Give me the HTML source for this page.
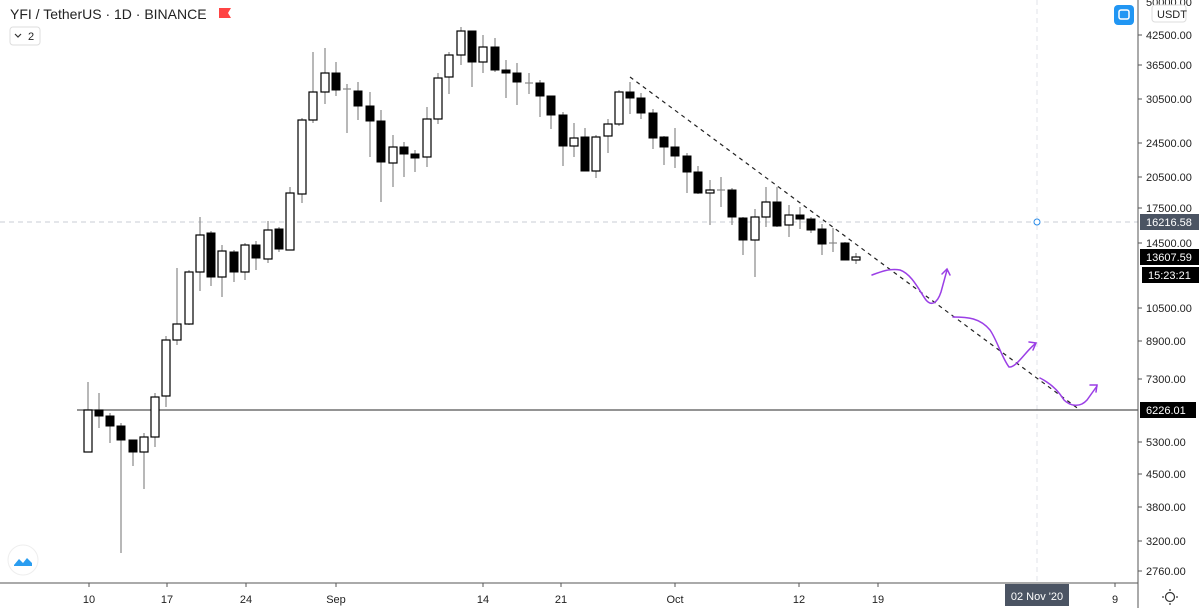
<!DOCTYPE html>
<html><head><meta charset="utf-8"><style>
html,body{margin:0;padding:0;background:#fff;width:1199px;height:608px;overflow:hidden;font-family:"Liberation Sans",sans-serif}
</style></head><body>
<svg width="1199" height="608" xmlns="http://www.w3.org/2000/svg" font-family="Liberation Sans, sans-serif">
<rect width="1199" height="608" fill="#fff"/>
<!-- grid-ish lines -->
<line x1="0" y1="222" x2="1138" y2="222" stroke="#c8ccd4" stroke-dasharray="5,4"/>
<line x1="1037" y1="0" x2="1037" y2="583" stroke="#e0e3e8" stroke-dasharray="5,4"/>
<circle cx="1037" cy="222" r="3" fill="#fff" stroke="#2a8be8" stroke-width="1"/>
<!-- horizontal support -->
<line x1="77" y1="410" x2="1138" y2="410" stroke="#555" stroke-width="1.3"/>
<!-- trendline -->
<line x1="630" y1="77" x2="1080" y2="410" stroke="#222" stroke-width="1.2" stroke-dasharray="4,4"/>
<!-- wicks -->
<g stroke="#888" stroke-width="1.2">
<line x1="88" y1="382" x2="88" y2="452"/><line x1="99" y1="393" x2="99" y2="428"/><line x1="110" y1="413" x2="110" y2="443"/><line x1="121" y1="423" x2="121" y2="553"/><line x1="133" y1="440" x2="133" y2="466"/><line x1="144" y1="433" x2="144" y2="489"/><line x1="155" y1="393" x2="155" y2="447"/><line x1="166" y1="336" x2="166" y2="407"/><line x1="177" y1="268" x2="177" y2="345"/><line x1="189" y1="270" x2="189" y2="325"/><line x1="200" y1="217" x2="200" y2="291"/><line x1="211" y1="231" x2="211" y2="286"/><line x1="222" y1="245" x2="222" y2="297"/><line x1="234" y1="250" x2="234" y2="282"/><line x1="245" y1="243" x2="245" y2="280"/><line x1="256" y1="241" x2="256" y2="270"/><line x1="268" y1="221" x2="268" y2="263"/><line x1="279" y1="227" x2="279" y2="252"/><line x1="290" y1="187" x2="290" y2="250"/><line x1="302" y1="118" x2="302" y2="203"/><line x1="313" y1="52" x2="313" y2="123"/><line x1="325" y1="48" x2="325" y2="104"/><line x1="336" y1="62" x2="336" y2="96"/><line x1="347" y1="84" x2="347" y2="133"/><line x1="358" y1="82" x2="358" y2="120"/><line x1="370" y1="92" x2="370" y2="157"/><line x1="381" y1="110" x2="381" y2="202"/><line x1="393" y1="135" x2="393" y2="187"/><line x1="404" y1="142" x2="404" y2="177"/><line x1="415" y1="150" x2="415" y2="172"/><line x1="427" y1="107" x2="427" y2="167"/><line x1="438" y1="73" x2="438" y2="124"/><line x1="449" y1="52" x2="449" y2="94"/><line x1="461" y1="27" x2="461" y2="65"/><line x1="472" y1="31" x2="472" y2="87"/><line x1="483" y1="35" x2="483" y2="73"/><line x1="495" y1="38" x2="495" y2="72"/><line x1="506" y1="60" x2="506" y2="98"/><line x1="517" y1="63" x2="517" y2="105"/><line x1="529" y1="73" x2="529" y2="94"/><line x1="540" y1="80" x2="540" y2="117"/><line x1="551" y1="96" x2="551" y2="129"/><line x1="563" y1="112" x2="563" y2="166"/><line x1="574" y1="123" x2="574" y2="157"/><line x1="585" y1="128" x2="585" y2="171"/><line x1="596" y1="135" x2="596" y2="178"/><line x1="608" y1="119" x2="608" y2="153"/><line x1="619" y1="90" x2="619" y2="126"/><line x1="630" y1="82" x2="630" y2="114"/><line x1="641" y1="93" x2="641" y2="119"/><line x1="653" y1="109" x2="653" y2="149"/><line x1="664" y1="136" x2="664" y2="165"/><line x1="675" y1="128" x2="675" y2="168"/><line x1="687" y1="153" x2="687" y2="193"/><line x1="698" y1="166" x2="698" y2="194"/><line x1="710" y1="180" x2="710" y2="225"/><line x1="721" y1="177" x2="721" y2="207"/><line x1="732" y1="188" x2="732" y2="225"/><line x1="743" y1="217" x2="743" y2="255"/><line x1="755" y1="209" x2="755" y2="277"/><line x1="766" y1="187" x2="766" y2="227"/><line x1="777" y1="187" x2="777" y2="227"/><line x1="789" y1="205" x2="789" y2="237"/><line x1="800" y1="207" x2="800" y2="229"/><line x1="811" y1="217" x2="811" y2="233"/><line x1="822" y1="224" x2="822" y2="255"/><line x1="833" y1="228" x2="833" y2="252"/><line x1="845" y1="242" x2="845" y2="260"/><line x1="856" y1="253" x2="856" y2="264"/>
<line x1="343" y1="89" x2="351" y2="89"/><line x1="525" y1="83" x2="533" y2="83"/><line x1="717" y1="190" x2="725" y2="190"/><line x1="829" y1="243" x2="837" y2="243"/>
</g>
<!-- white bodies -->
<g fill="#fff" stroke="#000" stroke-width="1.2">
<rect x="84" y="410" width="8" height="42"/><rect x="140" y="437" width="8" height="15"/><rect x="151" y="397" width="8" height="40"/><rect x="162" y="340" width="8" height="56"/><rect x="173" y="324" width="8" height="16"/><rect x="185" y="272" width="8" height="52"/><rect x="196" y="235" width="8" height="37"/><rect x="218" y="251" width="8" height="26"/><rect x="241" y="245" width="8" height="27"/><rect x="264" y="230" width="8" height="29"/><rect x="286" y="193" width="8" height="57"/><rect x="298" y="120" width="8" height="74"/><rect x="309" y="92" width="8" height="28"/><rect x="321" y="73" width="8" height="19"/><rect x="389" y="147" width="8" height="16"/><rect x="423" y="119" width="8" height="38"/><rect x="434" y="78" width="8" height="41"/><rect x="445" y="55" width="8" height="22"/><rect x="457" y="31" width="8" height="24"/><rect x="479" y="47" width="8" height="15"/><rect x="570" y="138" width="8" height="8"/><rect x="592" y="137" width="8" height="34"/><rect x="604" y="124" width="8" height="12"/><rect x="615" y="92" width="8" height="32"/><rect x="706" y="190" width="8" height="3"/><rect x="751" y="217" width="8" height="23"/><rect x="762" y="202" width="8" height="15"/><rect x="785" y="215" width="8" height="10"/><rect x="852" y="257" width="8" height="3"/>
</g>
<!-- black bodies -->
<g fill="#000" stroke="#000" stroke-width="1">
<rect x="95" y="410" width="8" height="6"/><rect x="106" y="416" width="8" height="10"/><rect x="117" y="426" width="8" height="14"/><rect x="129" y="440" width="8" height="12"/><rect x="207" y="233" width="8" height="44"/><rect x="230" y="252" width="8" height="20"/><rect x="252" y="245" width="8" height="13"/><rect x="275" y="229" width="8" height="20"/><rect x="332" y="73" width="8" height="17"/><rect x="354" y="91" width="8" height="15"/><rect x="366" y="106" width="8" height="15"/><rect x="377" y="121" width="8" height="41"/><rect x="400" y="147" width="8" height="7"/><rect x="411" y="154" width="8" height="4"/><rect x="468" y="31" width="8" height="31"/><rect x="491" y="47" width="8" height="23"/><rect x="502" y="70" width="8" height="3"/><rect x="513" y="73" width="8" height="9"/><rect x="536" y="83" width="8" height="13"/><rect x="547" y="96" width="8" height="19"/><rect x="559" y="115" width="8" height="31"/><rect x="581" y="137" width="8" height="34"/><rect x="626" y="92" width="8" height="6"/><rect x="637" y="98" width="8" height="15"/><rect x="649" y="113" width="8" height="25"/><rect x="660" y="137" width="8" height="10"/><rect x="671" y="147" width="8" height="9"/><rect x="683" y="156" width="8" height="16"/><rect x="694" y="172" width="8" height="21"/><rect x="728" y="190" width="8" height="27"/><rect x="739" y="218" width="8" height="22"/><rect x="773" y="202" width="8" height="24"/><rect x="796" y="215" width="8" height="4"/><rect x="807" y="219" width="8" height="11"/><rect x="818" y="229" width="8" height="15"/><rect x="841" y="243" width="8" height="17"/>
</g>
<!-- purple drawings -->
<g fill="none" stroke="#9b3fe6" stroke-width="1.5" stroke-linecap="round">
<path d="M872,275 C880,272 890,268 900,270 C912,274 920,292 926,300 C931,306 937,304 941,292 L947,270"/>
<path d="M942,274 L947,269 L950,275"/>
<path d="M953,317 C968,317 980,318 990,330 C997,340 1002,358 1009,367 C1016,368 1025,352 1035,344"/>
<path d="M1029,342 L1036,343 L1033,350"/>
<path d="M1040,378 C1050,383 1058,390 1064,400 C1070,406 1080,408 1087,400 L1097,386"/>
<path d="M1090,385 L1097,385 L1096,392"/>
</g>
<!-- axes -->
<line x1="1138" y1="0" x2="1138" y2="608" stroke="#555" stroke-width="1"/>
<line x1="0" y1="583" x2="1138" y2="583" stroke="#555" stroke-width="1"/>
<g font-size="11" fill="#222">
<text x="1146" y="6">50000.00</text>
<g stroke="#555"><line x1="1138" y1="35" x2="1142" y2="35"/><line x1="1138" y1="65" x2="1142" y2="65"/><line x1="1138" y1="99" x2="1142" y2="99"/><line x1="1138" y1="143" x2="1142" y2="143"/><line x1="1138" y1="177" x2="1142" y2="177"/><line x1="1138" y1="208" x2="1142" y2="208"/><line x1="1138" y1="243" x2="1142" y2="243"/><line x1="1138" y1="308" x2="1142" y2="308"/><line x1="1138" y1="341" x2="1142" y2="341"/><line x1="1138" y1="379" x2="1142" y2="379"/><line x1="1138" y1="442" x2="1142" y2="442"/><line x1="1138" y1="474" x2="1142" y2="474"/><line x1="1138" y1="507" x2="1142" y2="507"/><line x1="1138" y1="541" x2="1142" y2="541"/><line x1="1138" y1="571" x2="1142" y2="571"/></g>
<text x="1146" y="39">42500.00</text><text x="1146" y="69">36500.00</text><text x="1146" y="103">30500.00</text><text x="1146" y="147">24500.00</text><text x="1146" y="181">20500.00</text><text x="1146" y="212">17500.00</text><text x="1146" y="247">14500.00</text><text x="1146" y="312">10500.00</text><text x="1146" y="345">8900.00</text><text x="1146" y="383">7300.00</text><text x="1146" y="446">5300.00</text><text x="1146" y="478">4500.00</text><text x="1146" y="511">3800.00</text><text x="1146" y="545">3200.00</text><text x="1146" y="575">2760.00</text>
</g>
<rect x="1152" y="5" width="34" height="17" rx="3" fill="#fff" stroke="#ddd"/>
<text x="1157" y="18" font-size="11" fill="#222">USDT</text>
<rect x="1114" y="5" width="20" height="20" rx="4" fill="#2196f3"/>
<rect x="1119" y="10" width="10" height="9" rx="2" fill="none" stroke="#fff" stroke-width="1.5"/>
<rect x="1140" y="214" width="59" height="16" fill="#4b5463"/><text x="1146" y="226" font-size="11" fill="#fff">16216.58</text>
<rect x="1140" y="249" width="59" height="16" fill="#000"/><text x="1146" y="261" font-size="11" fill="#fff">13607.59</text>
<rect x="1142" y="267" width="57" height="16" fill="#000"/><text x="1148" y="279" font-size="11" fill="#fff">15:23:21</text>
<rect x="1140" y="402" width="56" height="16" fill="#000"/><text x="1146" y="414" font-size="11" fill="#fff">6226.01</text>
<!-- x axis -->
<g stroke="#555"><line x1="89" y1="583" x2="89" y2="587"/><line x1="167" y1="583" x2="167" y2="587"/><line x1="246" y1="583" x2="246" y2="587"/><line x1="336" y1="583" x2="336" y2="587"/><line x1="483" y1="583" x2="483" y2="587"/><line x1="561" y1="583" x2="561" y2="587"/><line x1="675" y1="583" x2="675" y2="587"/><line x1="799" y1="583" x2="799" y2="587"/><line x1="878" y1="583" x2="878" y2="587"/><line x1="1115" y1="583" x2="1115" y2="587"/></g>
<g font-size="11" fill="#222" text-anchor="middle">
<text x="89" y="603">10</text><text x="167" y="603">17</text><text x="246" y="603">24</text><text x="336" y="603">Sep</text><text x="483" y="603">14</text><text x="561" y="603">21</text><text x="675" y="603">Oct</text><text x="799" y="603">12</text><text x="878" y="603">19</text><text x="1115" y="603">9</text>
</g>
<rect x="1005" y="584" width="64" height="22" fill="#4b5463"/>
<text x="1037" y="600" font-size="11" fill="#fff" text-anchor="middle">02 Nov '20</text>
<circle cx="1170" cy="597" r="4.5" fill="none" stroke="#333" stroke-width="1.2"/>
<g stroke="#333" stroke-width="1.2"><line x1="1170" y1="589" x2="1170" y2="591"/><line x1="1170" y1="603" x2="1170" y2="605"/><line x1="1162" y1="597" x2="1164" y2="597"/><line x1="1176" y1="597" x2="1178" y2="597"/></g>
<!-- header -->
<text x="10" y="19" font-size="14" fill="#222">YFI / TetherUS · 1D · BINANCE</text>
<path d="M219,8 h12 l-3,5 l3,5 h-12 z" fill="#f44"/>
<rect x="10" y="27" width="30" height="18" rx="3" fill="#fff" stroke="#ddd"/>
<path d="M15,34 l3,3 l3,-3" fill="none" stroke="#333" stroke-width="1.2"/>
<text x="28" y="40" font-size="11" fill="#222">2</text>
<circle cx="23" cy="560" r="15" fill="#fff" stroke="#eee"/>
<path d="M14,565 l5,-6 l4,4 l4,-5 l5,5 v3 h-18 z" fill="#2a9df0"/>
</svg>
</body></html>
